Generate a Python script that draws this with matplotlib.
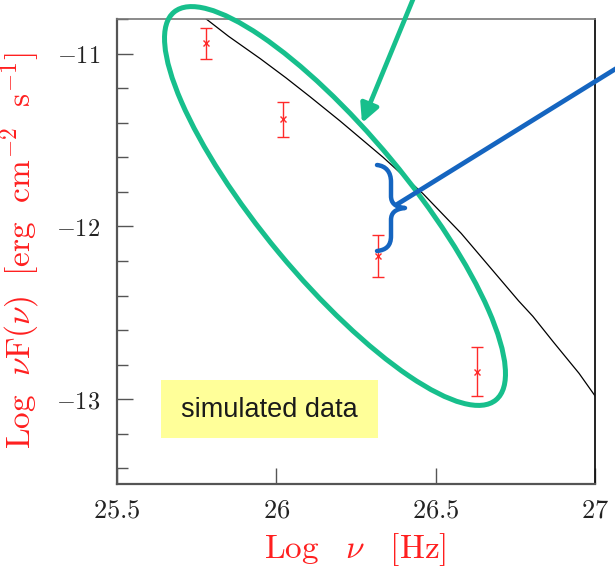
import matplotlib
matplotlib.use("Agg")
import matplotlib.pyplot as plt
from matplotlib.patches import Ellipse, Rectangle, FancyArrowPatch, PathPatch
from matplotlib.path import Path
from matplotlib.transforms import Affine2D
from matplotlib.ticker import FixedLocator, FixedFormatter, MultipleLocator
from matplotlib.lines import Line2D

plt.rcParams["mathtext.fontset"] = "cm"

# simulated flux points (log frequency, log nuF(nu), 1-sigma error)
log_nu = [25.78, 26.02, 26.32, 26.63]
log_flux = [-10.94, -11.38, -12.17, -12.84]
flux_err = [0.09, 0.10, 0.12, 0.14]

# model spectrum
model_log_nu = [25.70, 25.78, 25.85, 25.95, 26.03, 26.106, 26.20, 26.335,
                26.46, 26.58, 26.70, 26.76, 26.805, 26.87, 26.95, 27.00]
model_log_flux = [-10.69, -10.80, -10.90, -11.03, -11.14, -11.25, -11.39, -11.60,
                  -11.81, -12.04, -12.30, -12.43, -12.52, -12.67, -12.85, -12.98]

xticks = [25.5, 26.0, 26.5, 27.0]
xtick_labels = ["$25.5$", "$26$", "$26.5$", "$27$"]
yticks = [-13, -12, -11]
ytick_labels = ["$-13$", "$-12$", "$-11$"]

W, H = 615, 571
fig = plt.figure(figsize=(W / 100, H / 100), dpi=100)
ax = fig.add_axes([117 / W, 87 / H, 478 / W, 465 / H])

ax.plot(model_log_nu, model_log_flux, color="black", lw=0.9)
ax.errorbar(log_nu, log_flux, yerr=flux_err, fmt="x", color="#ff2a2a",
            ms=4, mew=1.0, elinewidth=1.0, capsize=4.5, capthick=1.0)

ax.set_xlim(25.5, 27.0)
ax.set_ylim(-13.49, -10.80)

ax.xaxis.set_major_locator(FixedLocator(xticks))
ax.xaxis.set_major_formatter(FixedFormatter(xtick_labels))
ax.yaxis.set_major_locator(FixedLocator(yticks))
ax.yaxis.set_major_formatter(FixedFormatter(ytick_labels))
ax.yaxis.set_minor_locator(MultipleLocator(0.2))

ax.tick_params(which="both", direction="in", color="#555555", width=1.0,
               top=False, right=False)
ax.tick_params(which="major", length=11.5)
ax.tick_params(which="minor", length=8)
ax.tick_params(axis="x", labelsize=19, pad=10, labelcolor="#222222")
ax.tick_params(axis="y", labelsize=17.5, pad=12, labelcolor="#222222")

for side, col, lw in [("left", "#555555", 1.6), ("bottom", "#555555", 1.6),
                      ("top", "#777777", 1.2), ("right", "#111111", 1.3)]:
    ax.spines[side].set_color(col)
    ax.spines[side].set_linewidth(lw)

red = "#ff1f1f"
fig.text(20 / W, 1 - 251 / H,
         r"$\mathrm{Log}\ \ \nu\mathrm{F}(\nu)\ \ [\mathrm{erg\ \ cm^{-2}\ \ s^{-1}}]$",
         rotation=90, ha="center", va="center", color=red, fontsize=24)
fig.text(355 / W, 1 - 550 / H, r"$\mathrm{Log}\ \ \;\nu\ \ \;[\mathrm{Hz}]$",
         ha="center", va="center", color=red, fontsize=24)

# pixel coordinates with origin at the top-left corner of the figure
px = Affine2D().scale(1 / 100, -1 / 100).translate(0, H / 100) + fig.dpi_scale_trans

green = "#17bf8c"
blue = "#1565c0"

fig.add_artist(Ellipse((335, 206), 504, 146, angle=50.3, transform=px,
                       fill=False, edgecolor=green, lw=3.6, clip_on=False))

fig.add_artist(FancyArrowPatch((416, -8), (362, 123), transform=px,
                               arrowstyle="-|>,head_length=0.55,head_width=0.28",
                               mutation_scale=20, color=green, lw=3.4,
                               shrinkA=0, shrinkB=0, clip_on=False))

fig.add_artist(Line2D([625, 396], [63, 205], transform=px, color=blue, lw=3.4,
                      solid_capstyle="round", clip_on=False))

brace_verts = [(377, 165), (386, 166), (391, 172), (391, 182), (391, 196),
               (391, 203), (395, 207), (405, 208),
               (395, 209), (391, 213), (391, 220), (391, 236),
               (391, 246), (386, 250), (377, 251)]
brace_codes = [Path.MOVETO, Path.CURVE4, Path.CURVE4, Path.CURVE4, Path.LINETO,
               Path.CURVE4, Path.CURVE4, Path.CURVE4,
               Path.CURVE4, Path.CURVE4, Path.CURVE4, Path.LINETO,
               Path.CURVE4, Path.CURVE4, Path.CURVE4]
fig.add_artist(PathPatch(Path(brace_verts, brace_codes), transform=px, fill=False,
                         edgecolor=blue, lw=3.2, capstyle="round",
                         joinstyle="round", clip_on=False))

fig.add_artist(Rectangle((161, 380), 217, 58, transform=px, facecolor="#ffff99",
                         edgecolor="none", clip_on=False))
fig.text(269 / W, 1 - 410 / H, "simulated data", family="Liberation Sans",
         fontsize=19.5, color="#1a1a1a", ha="center", va="center")

fig.savefig("out.png", dpi=100)
